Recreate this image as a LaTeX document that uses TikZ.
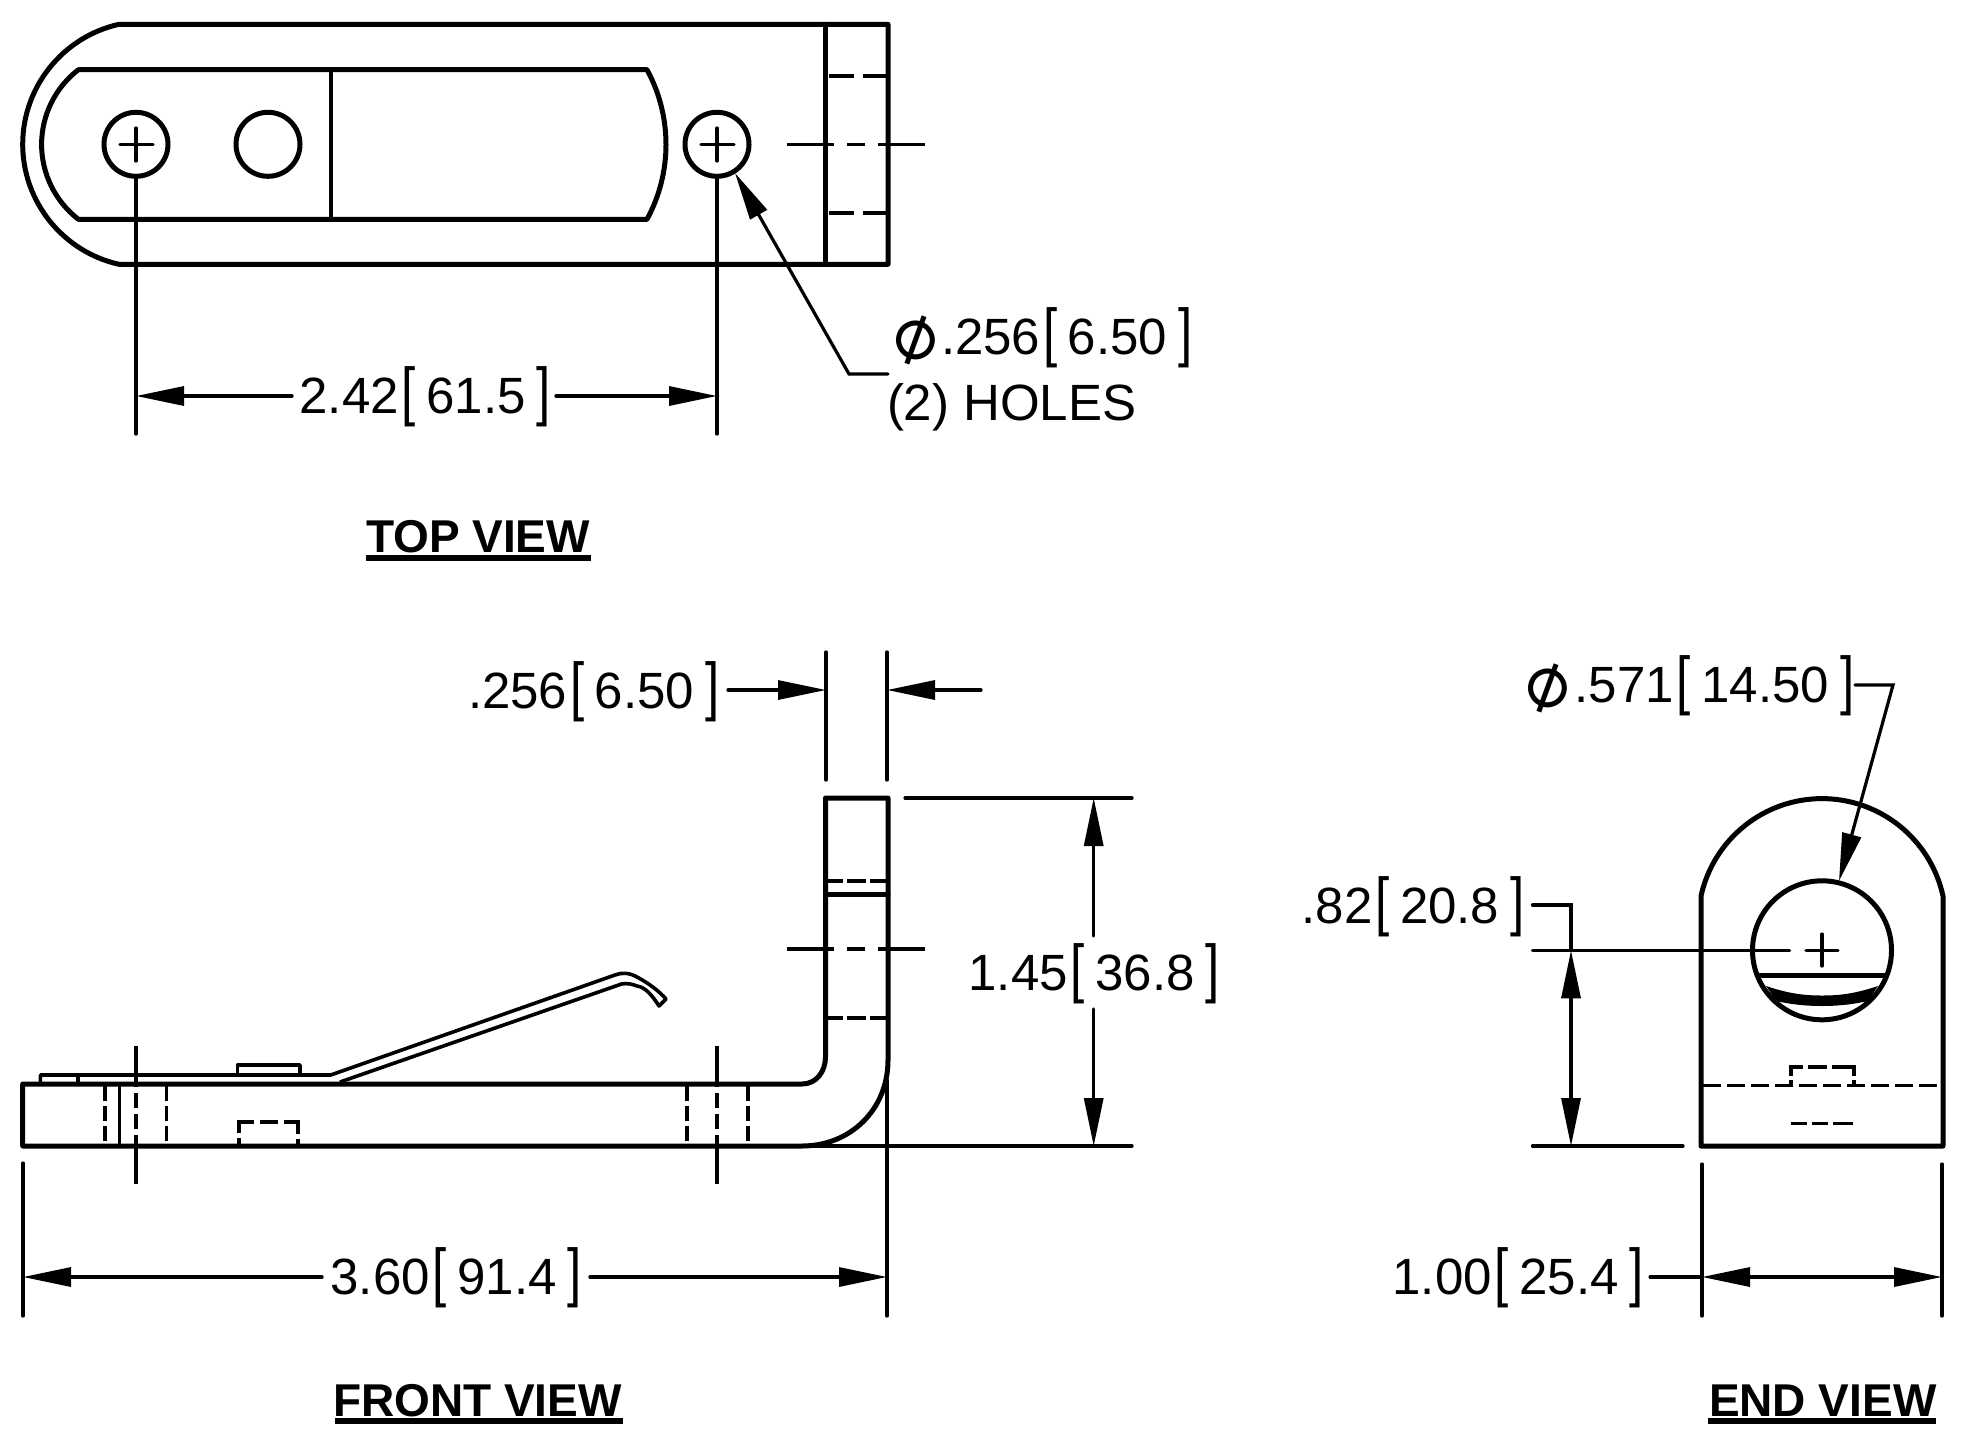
\documentclass[tikz,border=0pt]{standalone}
\usepackage{fontspec}
\usepackage{graphicx}
\usetikzlibrary{arrows.meta}
\setmainfont{Liberation Sans}
\newfontfamily\djv{DejaVu Sans}
\newcommand{\lbl}{\fontsize{51}{60}\selectfont}
\newcommand{\ttl}{\fontsize{46}{54}\bfseries\selectfont}
\newcommand{\lb}{\kern3pt\scalebox{1}[1.27]{[}\kern10.5pt}
\newcommand{\rb}{\kern11pt\scalebox{1}[1.27]{]}}
\newcommand{\dia}{\makebox[35pt][c]{\smash{\raisebox{-5pt}{\rotatebox[origin=c]{25}{\djv\fontsize{74}{80}\selectfont ⌀}}}}\kern0pt}
\tikzset{
  heavy/.style={line width=5pt,line join=round,line cap=round},
  light/.style={line width=3.2pt,line cap=round},
  spring/.style={line width=3.6pt,line join=round},
  hid/.style={line width=3.6pt,dash pattern=on 15pt off 5pt},
  dimtxt/.style={anchor=base west,inner sep=0pt,outer sep=0pt,font=\lbl},
  viewtxt/.style={anchor=base west,inner sep=0pt,outer sep=0pt,font=\ttl},
  uline/.style={line width=6pt},
  >={Stealth[inset=0pt,length=48pt,width=19pt]}
}
\begin{document}
\begin{tikzpicture}[x=1pt,y=-1pt]
\useasboundingbox (0,0) rectangle (1975,1451);
% ---------- TOP VIEW ----------
\draw[heavy] (119,24.3) .. controls (63,36.8) and (22.7,86.8) .. (22.7,144.3)
  .. controls (22.7,201.8) and (63,251.8) .. (119,264.3) -- (888,264.3) -- (888,24.3) -- cycle;
\draw[heavy] (825.5,24.3) -- (825.5,264.3);
\draw[heavy] (78.4,69.7) .. controls (55.2,87.6) and (41.6,115.2) .. (41.6,144.5)
  .. controls (41.6,173.8) and (55.2,201.4) .. (78.4,219.3) -- (647,219.3)
  .. controls (659.5,196.3) and (666,170.6) .. (666,144.5)
  .. controls (666,118.4) and (659.5,92.7) .. (647,69.7) -- cycle;
\draw[light,line width=3.6pt] (330.7,69.7) -- (330.7,219.3);
\draw[heavy] (136,144.3) circle[radius=32];
\draw[heavy] (268,144.3) circle[radius=32];
\draw[heavy] (717,144.3) circle[radius=32];
\draw[light] (120,144.3) -- (153,144.3) (136,128) -- (136,161);
\draw[light] (701,144.3) -- (734,144.3) (717,128) -- (717,161);
\draw[light] (136,176) -- (136,434);
\draw[light] (717,176) -- (717,434);
\draw[line width=3.6pt,dash pattern=on 25pt off 9pt on 25pt off 9pt] (829,76) -- (886,76);
\draw[line width=3.6pt,dash pattern=on 25pt off 9pt on 25pt off 9pt] (829,212.7) -- (886,212.7);
\draw[light,dash pattern=on 47pt off 13pt on 18pt off 13pt on 47pt,line cap=butt] (787,144.3) -- (926,144.3);
\draw[light,->] (292,396) -- (136,396);
\draw[light,->] (556,396) -- (717,396);
\node[dimtxt] (d242) at (299.5,413) {2.42\lb 61.5\rb};
\draw[light,<-] (735,173) -- (849,374) -- (888,374);
\node[dimtxt] (d256a) at (898,354) {\dia\kern8pt.256\lb 6.50\rb};
\node[dimtxt] (holes) at (887,420) {(2) HOLES};
\node[viewtxt] (vtop) at (366,552) {TOP VIEW};
\draw[uline] (366,558) -- (591,558);
% ---------- FRONT VIEW ----------
\draw[heavy] (825.5,1056.7) -- (825.5,798) -- (888,798) -- (888,1060)
  .. controls (888,1110) and (850,1146) .. (802,1146) -- (22.7,1146) -- (22.7,1084) -- (802,1084)
  .. controls (816,1084) and (825.5,1072) .. (825.5,1056.7);
\draw[heavy] (825.5,894.7) -- (888,894.7);
\draw[line width=3.6pt,dash pattern=on 15pt off 4pt on 19pt off 4pt on 17pt] (828,880.7) -- (886,880.7);
\draw[line width=3.6pt,dash pattern=on 15pt off 4pt on 19pt off 4pt on 17pt] (828,1017.7) -- (886,1017.7);
\draw[light,dash pattern=on 47pt off 13pt on 18pt off 13pt on 47pt,line cap=butt] (787,949) -- (926,949);
\draw[spring] (40.4,1084) -- (40.4,1075) -- (330.7,1075) -- (615,975)
  .. controls (622,972) and (630,973) .. (637,977)
  .. controls (650,984) and (660,992) .. (666,999) -- (659,1006)
  .. controls (652,995) and (645,987) .. (637,986)
  .. controls (632,984) and (627,983) .. (621.5,984) -- (340,1082);
\draw[spring] (78,1075) -- (78,1084);
\draw[spring] (237.6,1075) -- (237.6,1065) -- (300,1065) -- (300,1075);
\draw[line width=3.6pt] (119.4,1084) -- (119.4,1146);
\draw[hid] (105,1086) -- (105,1146);
\draw[hid] (166.6,1086) -- (166.6,1146);
\draw[hid] (687,1086) -- (687,1146);
\draw[hid] (747.7,1086) -- (747.7,1146);
\draw[line width=3.6pt,dash pattern=on 8pt off 5pt on 26pt off 6pt on 18pt off 6pt on 26pt off 5pt on 8pt] (239,1146) -- (239,1122) -- (298,1122) -- (298,1146);
\draw[light,line cap=butt,dash pattern=on 41pt off 6pt on 15pt off 6pt on 15pt off 6pt on 49pt] (136,1046) -- (136,1184);
\draw[light,line cap=butt,dash pattern=on 41pt off 6pt on 15pt off 6pt on 15pt off 6pt on 49pt] (717,1046) -- (717,1184);
% front dimensions
\draw[light] (826,652) -- (826,780);
\draw[light] (887,652) -- (887,780);
\draw[light,->] (728,690) -- (826,690);
\draw[light,->] (981,690) -- (887,690);
\node[dimtxt] (d256b) at (468,708) {.256\lb 6.50\rb};
\draw[light] (905,798) -- (1132,798);
\draw[light] (802,1146) -- (1132,1146);
\draw[light,->] (1093.7,936) -- (1093.7,798);
\draw[light,->] (1093.7,1009) -- (1093.7,1146);
\node[dimtxt] (d145) at (968.5,990) {1.45\lb 36.8\rb};
\draw[light] (23,1163) -- (23,1316);
\draw[light] (887,1080) -- (887,1316);
\draw[light,->] (322,1277) -- (23,1277);
\draw[light,->] (590,1277) -- (887,1277);
\node[dimtxt] (d360) at (330.5,1294) {3.60\lb 91.4\rb};
\node[viewtxt] (vfront) at (333,1416) {FRONT VIEW};
\draw[uline] (335,1421) -- (623,1421);
% ---------- END VIEW ----------
\draw[heavy] (1701,896) .. controls (1713.5,839.1) and (1763.8,798.6) .. (1822,798.6)
  .. controls (1880.2,798.6) and (1930.5,839.1) .. (1943,896) -- (1943,1146) -- (1701,1146) -- cycle;
\draw[heavy] (1822,950.3) circle[radius=69.5];
\draw[heavy] (1758,975.7) -- (1886,975.7);
\fill (1766,986) .. controls (1790,994) and (1805,995.5) .. (1822,995.5)
  .. controls (1839,995.5) and (1854,994) .. (1878,986)
  -- (1868,1001) .. controls (1850,1005) and (1835,1006) .. (1822,1006)
  .. controls (1809,1006) and (1794,1005) .. (1776,1001) -- cycle;
\draw[light] (1806,950.3) -- (1838,950.3) (1822,934) -- (1822,966);
\draw[light] (1532.5,950.3) -- (1789.5,950.3);
\draw[line width=3.6pt,dash pattern=on 18pt off 6pt] (1703,1085.5) -- (1941,1085.5);
\draw[line width=3.6pt,dash pattern=on 5pt off 4pt on 21pt off 5pt on 19pt off 5pt on 31pt off 4pt on 5pt] (1791,1085) -- (1791,1067) -- (1854,1067) -- (1854,1085);
\draw[line width=3.6pt,dash pattern=on 16pt off 5pt on 16pt off 5pt on 20pt] (1791,1123.4) -- (1854,1123.4);
\draw[light] (1532.5,905) -- (1571,905) -- (1571,950.3);
\draw[light,->] (1571,998) -- (1571,950.3);
\draw[light,->] (1571,1098) -- (1571,1146);
\draw[light] (1571,998) -- (1571,1098);
\draw[light] (1532.5,1146) -- (1683,1146);
\node[dimtxt] (d82) at (1301.5,923) {.82\lb 20.8\rb};
\draw[light,->] (1855,685) -- (1893,685) -- (1839,881);
\node[dimtxt] (d571) at (1530,702) {\dia\kern9.5pt.571\lb 14.50\rb};
\draw[light] (1702,1164) -- (1702,1316);
\draw[light] (1942,1164) -- (1942,1316);
\draw[light] (1650,1277) -- (1702,1277);
\draw[light,<->] (1702,1277) -- (1942,1277);
\node[dimtxt] (d100) at (1392.5,1294) {1.00\lb 25.4\rb};
\node[viewtxt] (vend) at (1709,1416) {END VIEW};
\draw[uline] (1708,1421) -- (1936,1421);
\end{tikzpicture}
\end{document}
